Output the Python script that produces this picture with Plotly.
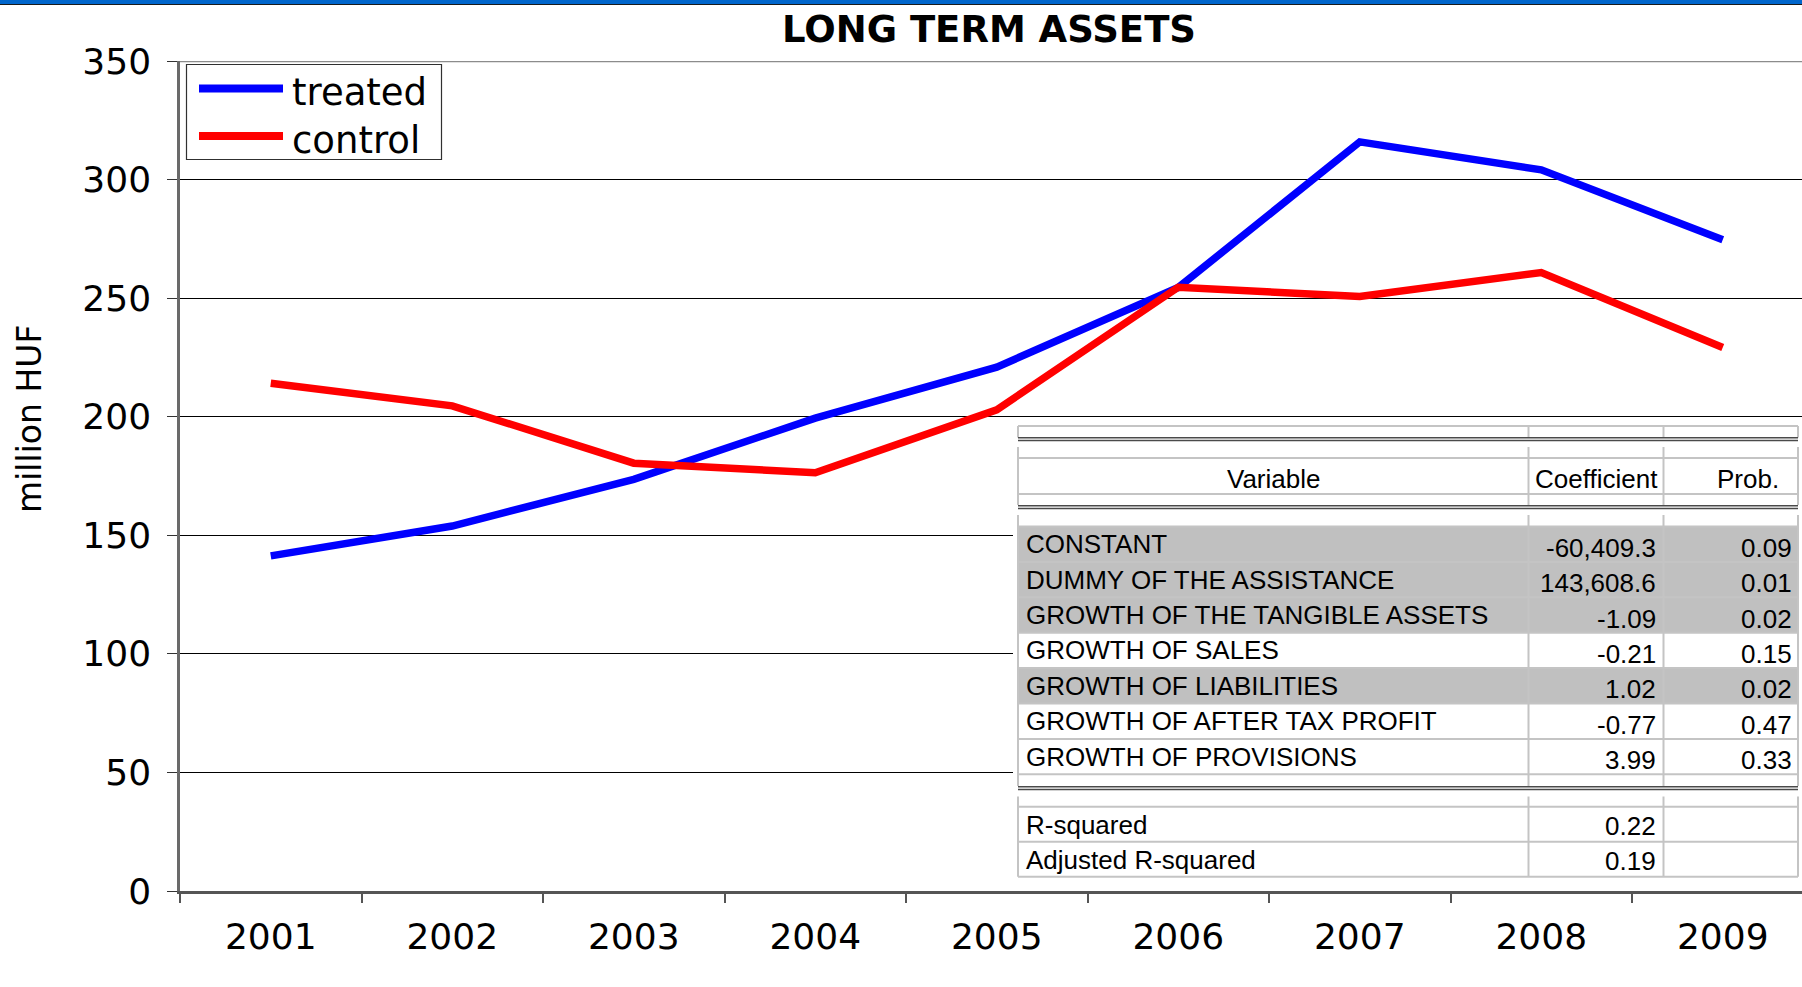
import plotly.graph_objects as go

# ---- chart data -------------------------------------------------------
years = ["2001", "2002", "2003", "2004", "2005", "2006", "2007", "2008", "2009"]
treated = [141.3, 153.9, 173.6, 199.4, 220.9, 254.5, 315.9, 304.1, 274.6]
control = [214.1, 204.6, 180.4, 176.4, 202.9, 254.6, 250.7, 260.8, 229.2]
y_ticks = [0, 50, 100, 150, 200, 250, 300, 350]

# ---- regression table -------------------------------------------------
variables = [
    "CONSTANT",
    "DUMMY OF THE ASSISTANCE",
    "GROWTH OF THE TANGIBLE ASSETS",
    "GROWTH OF SALES",
    "GROWTH OF LIABILITIES",
    "GROWTH OF AFTER TAX PROFIT",
    "GROWTH OF PROVISIONS",
]
coefficients = ["-60,409.3", "143,608.6", "-1.09", "-0.21", "1.02", "-0.77", "3.99"]
probs = ["0.09", "0.01", "0.02", "0.15", "0.02", "0.47", "0.33"]
shaded_rows = [0, 1, 2, 4]
fit_labels = ["R-squared", "Adjusted R-squared"]
fit_values = ["0.22", "0.19"]

# ---- layout geometry (pixels) -----------------------------------------
W, H = 1802, 987
L, T, B = 180, 61, 96
PW, PH = W - L, H - T - B


def px(x):
    return (x - L) / PW


def py(y):
    return (H - B - y) / PH


BLUE = "#0000ff"
RED = "#ff0000"
TICK_FONT = dict(family="DejaVu Sans, Verdana", size=36, color="black")
TABLE_FONT = dict(family="Liberation Sans, Arial", size=26, color="black")

fig = go.Figure()
fig.add_trace(go.Scatter(x=years, y=treated, mode="lines", name="treated",
                         line=dict(color=BLUE, width=7.5), showlegend=False))
fig.add_trace(go.Scatter(x=years, y=control, mode="lines", name="control",
                         line=dict(color=RED, width=7.5), showlegend=False))

shapes = []
annotations = []

# top banner
shapes.append(dict(type="rect", xref="paper", yref="paper", x0=px(0), x1=px(W),
                   y0=py(0), y1=py(4), fillcolor="#0066cc", line_width=0, layer="above"))
shapes.append(dict(type="line", xref="paper", yref="paper", x0=px(0), x1=px(W),
                   y0=py(4.5), y1=py(4.5), line=dict(color="#1a1a1a", width=1.2), layer="above"))

# top border of plot area
shapes.append(dict(type="line", xref="paper", yref="y", x0=0, x1=1, y0=350, y1=350,
                   line=dict(color="#8c8c8c", width=2.5), layer="above"))

# legend
shapes.append(dict(type="rect", xref="paper", yref="paper", x0=px(186.5), x1=px(441.5),
                   y0=py(64.5), y1=py(159.5), fillcolor="white",
                   line=dict(color="#303030", width=1.2), layer="above"))
for name, col, ly, ty in [("treated", BLUE, 88.5, 92), ("control", RED, 136, 140)]:
    shapes.append(dict(type="line", xref="paper", yref="paper", x0=px(199), x1=px(283),
                       y0=py(ly), y1=py(ly), line=dict(color=col, width=8), layer="above"))
    annotations.append(dict(xref="paper", yref="paper", x=px(290), y=py(ty),
                            xanchor="left", yanchor="middle", text=name, showarrow=False,
                            font=dict(family="DejaVu Sans, Verdana", size=37, color="black")))

# y axis title
annotations.append(dict(xref="paper", yref="paper", x=px(29), y=py(419), text="million HUF",
                        textangle=-90, showarrow=False, xanchor="center", yanchor="middle",
                        font=dict(family="DejaVu Sans, Verdana", size=33, color="black")))

# ---- table drawing ----------------------------------------------------
TX0, TX1 = 1018, 1798
C1, C2 = 1528.5, 1663.5
GRAY = "#c4c4c4"
DARK = "#4a4a4a"

shapes.append(dict(type="rect", xref="paper", yref="paper", x0=px(1013), x1=px(W),
                   y0=py(419), y1=py(881), fillcolor="white", line_width=0, layer="above"))


def hline(y, color=GRAY, width=2):
    shapes.append(dict(type="line", xref="paper", yref="paper", x0=px(TX0), x1=px(TX1),
                       y0=py(y), y1=py(y), line=dict(color=color, width=width), layer="above"))


def vlines(y0, y1):
    for x in (TX0, C1, C2, TX1):
        shapes.append(dict(type="line", xref="paper", yref="paper", x0=px(x), x1=px(x),
                           y0=py(y0), y1=py(y1), line=dict(color=GRAY, width=2), layer="above"))


def cell_fill(y0, y1):
    shapes.append(dict(type="rect", xref="paper", yref="paper", x0=px(TX0), x1=px(TX1),
                       y0=py(y0), y1=py(y1), fillcolor="#c0c0c0", line_width=0, layer="above"))


def text(x, y, s, anchor="left"):
    annotations.append(dict(xref="paper", yref="paper", x=px(x), y=py(y), text=s,
                            xanchor=anchor, yanchor="middle", showarrow=False, font=TABLE_FONT))


# top block
vlines(426, 437.5)
hline(426)
hline(437.7, DARK, 1.6)
hline(440.5, DARK, 1.6)
# header block
vlines(447, 505)
hline(458)
hline(494)
text((TX0 + C1) / 2, 479, "Variable", "center")
text((C1 + C2) / 2, 479, "Coefficient", "center")
text(1748, 479, "Prob.", "center")
hline(505.7, DARK, 1.6)
hline(508.5, DARK, 1.6)

# coefficient rows
row_top = 526.5
row_h = 35.4
for i in shaded_rows:
    cell_fill(row_top + i * row_h, row_top + (i + 1) * row_h)
vlines(515, 786)
hline(row_top)
for i, (v, c, p) in enumerate(zip(variables, coefficients, probs)):
    y0 = row_top + i * row_h
    hline(y0 + row_h)
    text(1024, y0 + row_h / 2, v)
    text(1658, y0 + row_h / 2 + 3.5, c, "right")
    text(1794, y0 + row_h / 2 + 3.5, p, "right")
hline(786.8, DARK, 1.6)
hline(789.5, DARK, 1.6)

# goodness of fit rows
fit_top = 806.7
vlines(796.5, 876.7)
hline(fit_top)
for i, (lab, val) in enumerate(zip(fit_labels, fit_values)):
    y0 = fit_top + i * 35
    hline(y0 + 35)
    text(1024, y0 + 18.5, lab)
    text(1658, y0 + 19.5, val, "right")

fig.update_layout(
    width=W, height=H,
    margin=dict(l=L, r=0, t=T, b=B, pad=0),
    paper_bgcolor="white", plot_bgcolor="white",
    title=dict(text="<b>LONG TERM ASSETS</b>", xref="container", yref="container",
               x=989 / W, xanchor="center", y=1 - 29 / H, yanchor="middle",
               font=dict(family="DejaVu Sans, Verdana", size=37, color="black")),
    xaxis=dict(range=[-0.5, -0.5 + PW / 181.5], showgrid=False, zeroline=False,
               showline=True, linecolor="#555555", linewidth=3,
               ticks="outside", tickson="boundaries", ticklen=9, tickcolor="#555555",
               tickwidth=1.5, tickfont=TICK_FONT, ticklabelstandoff=12),
    yaxis=dict(range=[0, 350], tickvals=y_ticks, showgrid=True, gridcolor="#000000",
               gridwidth=1.2, zeroline=False, showline=True, linecolor="#6a6a6a",
               linewidth=2.5, ticks="outside", ticklen=10, tickcolor="#333333",
               tickwidth=1.2, tickfont=TICK_FONT, ticklabelstandoff=9),
    shapes=shapes,
    annotations=annotations,
    showlegend=False,
)

fig.write_html("out.html")
